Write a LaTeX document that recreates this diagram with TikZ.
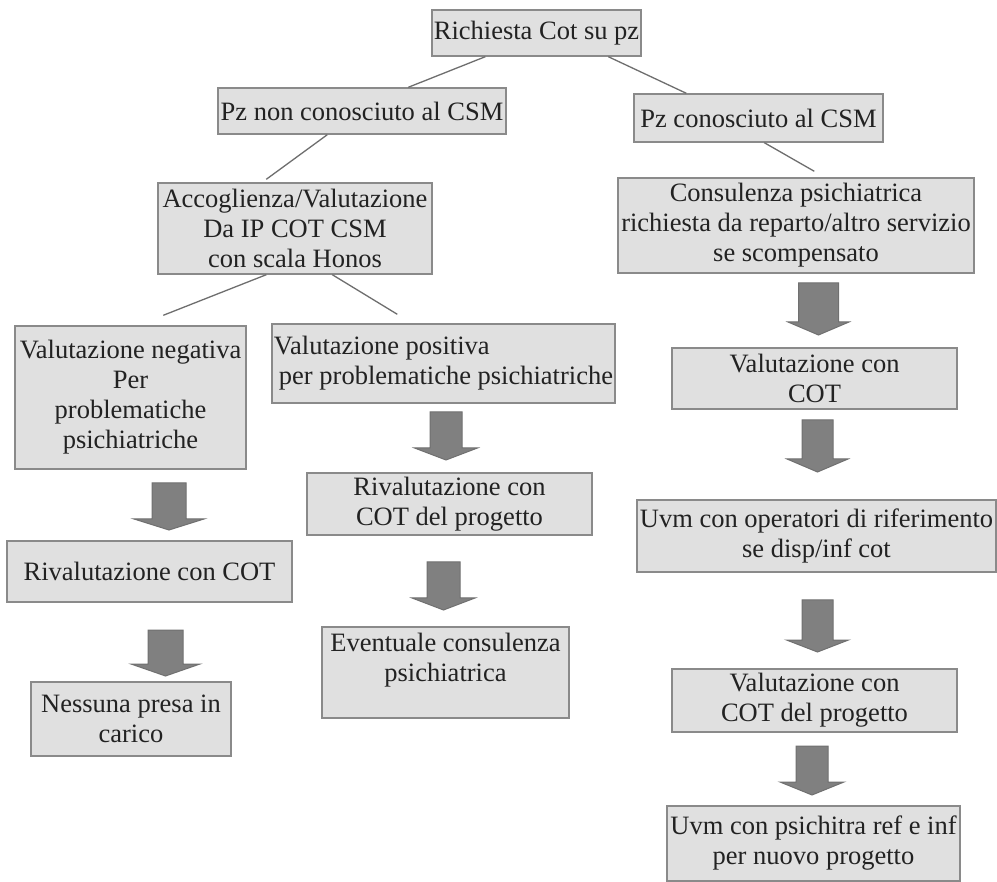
\documentclass[tikz,border=0pt]{standalone}
\usepackage{fontspec}
\setmainfont{Liberation Serif}
\usetikzlibrary{calc}
\definecolor{boxfill}{HTML}{E0E0E0}
\definecolor{boxline}{HTML}{8A8A8A}
\definecolor{connline}{HTML}{6E6E6E}
\definecolor{arrfill}{HTML}{808080}
\definecolor{arrline}{HTML}{707070}
\definecolor{txt}{HTML}{222222}
\newcommand\blkarrow[6]{% cx, stem half width, head half width, top, head base, tip
  \filldraw[barrow] ({#1-#2},#4) -- ({#1+#2},#4) -- ({#1+#2},#5) -- ({#1+#3},#5)
    -- (#1,#6) -- ({#1-#3},#5) -- ({#1-#2},#5) -- cycle;}
\begin{document}
\begin{tikzpicture}[x=1pt,y=-1pt,
  box/.style={draw=boxline, fill=boxfill, line width=1.4pt, rectangle,
    align=center, inner sep=1pt, text=txt,
    font=\fontsize{26.5}{30}\selectfont},
  conn/.style={draw=connline, line width=1.3pt},
  barrow/.style={fill=arrfill, draw=arrline, line width=1pt, line join=miter}]
\useasboundingbox[fill=white] (0,0) rectangle (997,882);

% boxes: centre = ((l+r)/2,(t+b)/2), size = (r-l) x (b-t)
\node[box, minimum width=209, minimum height=46] (A) at (536.5,33) {Richiesta Cot su pz};
\node[box, minimum width=288, minimum height=46] (B) at (362,111) {Pz non conosciuto al CSM};
\node[box, minimum width=249, minimum height=48] (C) at (758.5,118) {Pz conosciuto al CSM};
\node[box, minimum width=274, minimum height=91] (D) at (295,228.5) {Accoglienza/Valutazione\\Da IP COT CSM\\con scala Honos};
\node[box, minimum width=356, minimum height=95] (E) at (796,225.5) {Consulenza psichiatrica\\richiesta da reparto/altro servizio\\se scompensato};
\node[box, minimum width=231, minimum height=143] (F) at (130.5,397.5) {Valutazione negativa\\Per\\problematiche\\psichiatriche};
\node[box, minimum width=343, minimum height=79, align=left] (G) at (443.5,363.5) {Valutazione positiva\\\hspace*{5pt}per problematiche psichiatriche};
\node[box, minimum width=285, minimum height=61] (H) at (814.5,378.5) {Valutazione con\\COT};
\node[box, minimum width=285, minimum height=61] (I) at (149.5,571.5) {Rivalutazione con COT};
\node[box, minimum width=285, minimum height=62] (J) at (449.5,504) {Rivalutazione con\\COT del progetto};
\node[box, minimum width=359, minimum height=72] (K) at (816.5,536) {Uvm con operatori di riferimento\\se disp/inf cot};
\node[box, minimum width=200, minimum height=74] (L) at (131,719) {Nessuna presa in\\carico};
\node[box, minimum width=247, minimum height=91] (M) at (445.5,672.5) {Eventuale consulenza\\psichiatrica\\\mbox{}};
\node[box, minimum width=285, minimum height=63] (N) at (814.5,700.5) {Valutazione con\\COT del progetto};
\node[box, minimum width=293, minimum height=75] (O) at (813.5,843.5) {Uvm con psichitra ref e inf\\per nuovo progetto};

% thin connectors
\draw[conn] ([xshift=54pt]A.south west) -- ([xshift=191pt]B.north west);
\draw[conn] ([xshift=177pt]A.south west) -- ([xshift=53pt]C.north west);
\draw[conn] ([xshift=110pt]B.south west) -- ([xshift=109pt,yshift=3pt]D.north west);
\draw[conn] ([xshift=131pt]C.south west) -- ([xshift=197pt,yshift=6pt]E.north west);
\draw[conn] ([xshift=109pt]D.south west) -- ([xshift=149pt,yshift=10pt]F.north west);
\draw[conn] ([xshift=175pt]D.south west) -- ([xshift=126pt,yshift=9pt]G.north west);

% block arrows
\blkarrow{169}{17}{35}{483}{519}{530}     % F -> I
\blkarrow{165.5}{17.5}{34.5}{630}{664}{676} % I -> L
\blkarrow{446}{16}{31.5}{412}{448}{460}   % G -> J
\blkarrow{443.5}{16.5}{31.5}{562}{598}{610} % J -> M
\blkarrow{818.5}{20}{30.5}{283}{322}{335} % E -> H
\blkarrow{817.5}{15.5}{30.5}{420}{459}{472} % H -> K
\blkarrow{817.5}{15.5}{31}{600}{640}{652} % K -> N
\blkarrow{812}{16}{32}{746}{782}{795}     % N -> O
\end{tikzpicture}
\end{document}
